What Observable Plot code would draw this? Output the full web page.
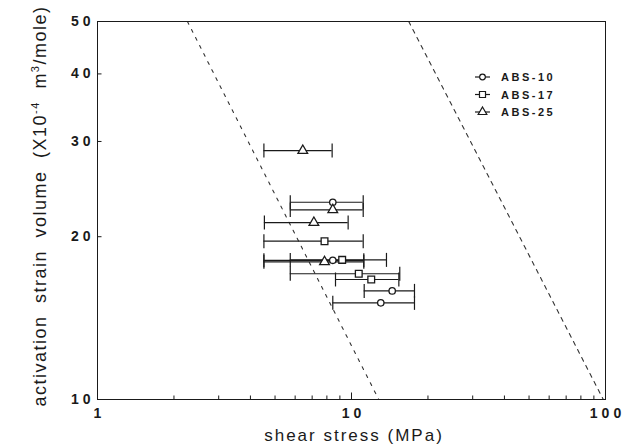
<!DOCTYPE html>
<html>
<head>
<meta charset="utf-8">
<script src="https://cdn.jsdelivr.net/npm/d3@7"></script>
<script src="https://cdn.jsdelivr.net/npm/@observablehq/plot@0.6"></script>
<style>
  html, body { margin: 0; padding: 0; background: #fff; }
  #chart { position: relative; width: 624px; height: 445px; }
</style>
</head>
<body>
<div id="chart"></div>
<script>
// ---- data ----
const seriesNames = ["ABS-10", "ABS-17", "ABS-25"];

// ABS-10 (open circles)
const abs10Stress = [8.44, 8.44, 14.46, 13.04];
const abs10Volume = [23.16, 18.09, 15.88, 15.09];
const abs10Low    = [5.74, 4.52, 11.22, 8.44];
const abs10High   = [11.12, 11.18, 17.70, 17.70];

// ABS-17 (open squares)
const abs17Stress = [7.83, 9.19, 10.68, 11.96];
const abs17Volume = [19.62, 18.12, 17.08, 16.67];
const abs17Low    = [4.52, 5.74, 5.74, 8.65];
const abs17High   = [11.12, 13.73, 15.49, 15.36];

// ABS-25 (open triangles)
const abs25Stress = [6.43, 8.44, 7.11, 7.83];
const abs25Volume = [28.86, 22.42, 21.24, 17.97];
const abs25Low    = [4.52, 5.74, 4.54, 4.52];
const abs25High   = [8.39, 11.12, 9.70, 11.18];

// dashed reference lines (end points)
const lineAStress = [2.26, 12.8];
const lineAVolume = [50, 10];
const lineBStress = [16.8, 98];
const lineBVolume = [50, 10];

// tick values / labels
const xTickLabels = [1, 10, 100];
const xMinorTicks = [2, 3, 4, 5, 6, 7, 8, 9, 20, 30, 40, 50, 60, 70, 80, 90];
const xMajorInner = [10];
const yTickLabels = [10, 20, 30, 40, 50];
const yInnerTicks = [20, 30, 40];

// ---- build tables ----
function table(name, sx, sy, lo, hi) {
  return sx.map((s, i) => ({series: name, stress: s, volume: sy[i], lo: lo[i], hi: hi[i]}));
}
const abs10 = table("ABS-10", abs10Stress, abs10Volume, abs10Low, abs10High);
const abs17 = table("ABS-17", abs17Stress, abs17Volume, abs17Low, abs17High);
const abs25 = table("ABS-25", abs25Stress, abs25Volume, abs25Low, abs25High);
const all = [...abs10, ...abs17, ...abs25];
const lineA = lineAStress.map((s, i) => ({stress: s, volume: lineAVolume[i]}));
const lineB = lineBStress.map((s, i) => ({stress: s, volume: lineBVolume[i]}));

// custom symbols
const vBar = {draw(ctx, size) { const h = Math.sqrt(size / Math.PI); ctx.moveTo(0, -h); ctx.lineTo(0, h); }};
const tickUp = {draw(ctx, size) { const h = Math.sqrt(size / Math.PI); ctx.moveTo(0, 0); ctx.lineTo(0, -h); }};
const tickRight = {draw(ctx, size) { const h = Math.sqrt(size / Math.PI); ctx.moveTo(0, 0); ctx.lineTo(h, 0); }};

const ink = "#1a1a1a";
const markerStyle = {fill: "white", stroke: ink, strokeWidth: 1.3};
const rCircle = 3.2, rSquare = 3.8, rTriangle = 3.6;

const chart = Plot.plot({
  width: 624,
  height: 445,
  marginLeft: 97,
  marginRight: 19,
  marginTop: 21,
  marginBottom: 46,
  style: {fontFamily: "'Liberation Sans', Arial, Helvetica, sans-serif", color: ink, background: "white"},
  x: {type: "log", domain: [1, 100]},
  y: {type: "log", domain: [10, 50]},
  marks: [
    // inner ticks
    Plot.dot(xMinorTicks, {x: d => d, frameAnchor: "bottom", symbol: tickUp, r: 4, fill: "none", stroke: ink, strokeWidth: 1}),
    Plot.dot(xMajorInner, {x: d => d, frameAnchor: "bottom", symbol: tickUp, r: 7, fill: "none", stroke: ink, strokeWidth: 1}),
    Plot.dot(yInnerTicks, {y: d => d, frameAnchor: "left", symbol: tickRight, r: 4, fill: "none", stroke: ink, strokeWidth: 1}),
    // tick labels
    Plot.axisX(xTickLabels, {tickSize: 0, tickPadding: 9, fontSize: 14, fontWeight: "bold", dx: 2, label: null, tickFormat: d => String(d)}),
    Plot.axisY(yTickLabels, {tickSize: 0, tickPadding: 3, fontSize: 14, fontWeight: "bold", label: null, tickFormat: d => String(d)}),
    // dashed reference lines
    Plot.line(lineA, {x: "stress", y: "volume", stroke: "#333", strokeWidth: 1.1, strokeDasharray: "3,6"}),
    Plot.line(lineB, {x: "stress", y: "volume", stroke: "#333", strokeWidth: 1.1, strokeDasharray: "4,5"}),
    // error bars
    Plot.ruleY(all, {y: "volume", x1: "lo", x2: "hi", stroke: ink, strokeWidth: 1.2}),
    Plot.dot(all, {x: "lo", y: "volume", symbol: vBar, r: 7, fill: "none", stroke: ink, strokeWidth: 1.2}),
    Plot.dot(all, {x: "hi", y: "volume", symbol: vBar, r: 7, fill: "none", stroke: ink, strokeWidth: 1.2}),
    // markers
    Plot.dot(abs10, {x: "stress", y: "volume", symbol: "circle", r: rCircle, ...markerStyle}),
    Plot.dot(abs17, {x: "stress", y: "volume", symbol: "square", r: rSquare, ...markerStyle}),
    Plot.dot(abs25, {x: "stress", y: "volume", symbol: "triangle", r: rTriangle, ...markerStyle}),
    Plot.frame({stroke: ink, strokeWidth: 1})
  ]
});

document.getElementById("chart").appendChild(chart);

const svg = d3.select(chart);
svg.selectAll('g[aria-label="x-axis tick label"] text, g[aria-label="y-axis tick label"] text')
  .style("letter-spacing", "4px");

// axis titles
const yLab = svg.append("text")
  .attr("transform", "translate(46,206) rotate(-90)")
  .attr("text-anchor", "middle")
  .attr("fill", ink)
  .style("font-size", "18px")
  .style("letter-spacing", "1.5px")
  .style("word-spacing", "6px");
yLab.append("tspan").text("activation strain volume (X10");
yLab.append("tspan").attr("dy", -7).style("font-size", "11px").text("-4");
yLab.append("tspan").attr("dy", 7).text(" m");
yLab.append("tspan").attr("dy", -7).style("font-size", "11px").text("3");
yLab.append("tspan").attr("dy", 7).text("/mole)");

svg.append("text")
  .attr("x", 354).attr("y", 440.5)
  .attr("text-anchor", "middle")
  .attr("fill", ink)
  .style("font-size", "17px")
  .style("letter-spacing", "2px")
  .text("shear stress (MPa)");

// legend
const legendSymbols = [d3.symbolCircle, d3.symbolSquare, d3.symbolTriangle];
const legendSizes = [rCircle * rCircle * Math.PI, rSquare * rSquare * Math.PI, rTriangle * rTriangle * Math.PI].map(s => s * 0.8);
const legendRows = [77, 94.5, 112];
const lg = svg.append("g").attr("aria-label", "legend");
seriesNames.forEach((name, i) => {
  const yy = legendRows[i];
  lg.append("line").attr("x1", 475).attr("x2", 490).attr("y1", yy).attr("y2", yy)
    .attr("stroke", ink).attr("stroke-width", 1.2);
  lg.append("path").attr("d", d3.symbol(legendSymbols[i], legendSizes[i])())
    .attr("transform", `translate(482.5,${yy})`)
    .attr("fill", "white").attr("stroke", ink).attr("stroke-width", 1.2);
  lg.append("text").attr("x", 501).attr("y", yy + 4)
    .attr("text-anchor", "start")
    .attr("fill", ink)
    .style("font-size", "11px").style("font-weight", "bold").style("letter-spacing", "2.5px")
    .text(name);
});
</script>
</body>
</html>
